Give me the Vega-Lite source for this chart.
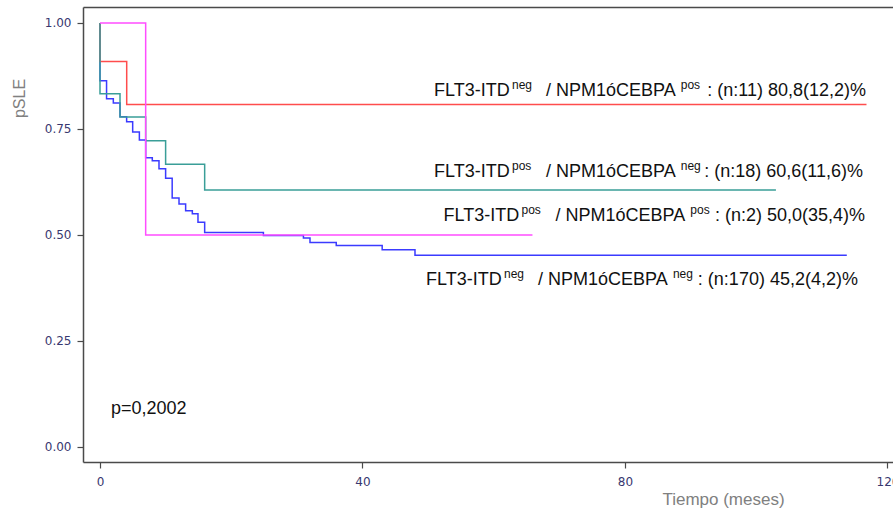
{
  "$schema": "https://vega.github.io/schema/vega-lite/v6.json",
  "width": 810,
  "height": 455,
  "autosize": {"type": "none"},
  "padding": {"left": 83, "top": 7, "right": 0, "bottom": 50},
  "background": "white",
  "config": {
    "view": {"stroke": null},
    "axis": {"grid": false, "labelFont": "DejaVu Sans", "labelFontSize": 12, "labelColor": "#383870", "domainColor": "#4a4a4a", "domainWidth": 1.5, "tickColor": "#4a4a4a", "tickWidth": 1.2, "tickSize": 6, "titleFont": "Liberation Sans", "titleFontWeight": "normal", "titleColor": "#808080"}
  },
  "datasets": {
    "curves": [
      {"group": "nn", "t": 0, "s": 1.0},
      {"group": "nn", "t": 0, "s": 0.864},
      {"group": "nn", "t": 1.0, "s": 0.8215},
      {"group": "nn", "t": 2.03, "s": 0.811},
      {"group": "nn", "t": 3.05, "s": 0.779},
      {"group": "nn", "t": 4.06, "s": 0.767},
      {"group": "nn", "t": 4.98, "s": 0.743},
      {"group": "nn", "t": 6.0, "s": 0.724},
      {"group": "nn", "t": 6.96, "s": 0.682},
      {"group": "nn", "t": 7.97, "s": 0.675},
      {"group": "nn", "t": 8.99, "s": 0.656},
      {"group": "nn", "t": 10.0, "s": 0.634},
      {"group": "nn", "t": 11.0, "s": 0.587},
      {"group": "nn", "t": 12.04, "s": 0.573},
      {"group": "nn", "t": 13.05, "s": 0.557},
      {"group": "nn", "t": 14.07, "s": 0.55},
      {"group": "nn", "t": 14.93, "s": 0.53},
      {"group": "nn", "t": 15.95, "s": 0.506},
      {"group": "nn", "t": 24.9, "s": 0.499},
      {"group": "nn", "t": 31.0, "s": 0.493},
      {"group": "nn", "t": 32.0, "s": 0.482},
      {"group": "nn", "t": 36.0, "s": 0.475},
      {"group": "nn", "t": 43.0, "s": 0.465},
      {"group": "nn", "t": 48.0, "s": 0.452},
      {"group": "nn", "t": 113.8, "s": 0.452},
      {"group": "np", "t": 0, "s": 1.0},
      {"group": "np", "t": 0, "s": 0.909},
      {"group": "np", "t": 4.07, "s": 0.808},
      {"group": "np", "t": 116.8, "s": 0.808},
      {"group": "pn", "t": 0, "s": 1.0},
      {"group": "pn", "t": 0, "s": 0.833},
      {"group": "pn", "t": 3.05, "s": 0.778},
      {"group": "pn", "t": 6.96, "s": 0.722},
      {"group": "pn", "t": 10.0, "s": 0.667},
      {"group": "pn", "t": 15.95, "s": 0.606},
      {"group": "pn", "t": 103.0, "s": 0.606},
      {"group": "pp", "t": 0, "s": 1.0},
      {"group": "pp", "t": 6.96, "s": 0.5},
      {"group": "pp", "t": 65.9, "s": 0.5}
    ],
    "labels": [
      {"part": "main", "text": "FLT3-ITD", "x": 50.9, "y": 0.828},
      {"part": "sup", "text": "neg", "x": 62.78, "y": 0.828},
      {"part": "main", "text": "/ NPM1óCEBPA", "x": 67.96, "y": 0.828},
      {"part": "sup", "text": "pos", "x": 88.5, "y": 0.828},
      {"part": "tail", "text": ": (n:11) 80,8(12,2)%", "x": 116.72, "y": 0.828},
      {"part": "main", "text": "FLT3-ITD", "x": 50.9, "y": 0.637},
      {"part": "sup", "text": "pos", "x": 62.78, "y": 0.637},
      {"part": "main", "text": "/ NPM1óCEBPA", "x": 67.96, "y": 0.637},
      {"part": "sup", "text": "neg", "x": 88.5, "y": 0.637},
      {"part": "tail", "text": ": (n:18) 60,6(11,6)%", "x": 116.27, "y": 0.637},
      {"part": "main", "text": "FLT3-ITD", "x": 52.34, "y": 0.533},
      {"part": "sup", "text": "pos", "x": 64.23, "y": 0.533},
      {"part": "main", "text": "/ NPM1óCEBPA", "x": 69.41, "y": 0.533},
      {"part": "sup", "text": "pos", "x": 89.95, "y": 0.533},
      {"part": "tail", "text": ": (n:2) 50,0(35,4)%", "x": 116.57, "y": 0.533},
      {"part": "main", "text": "FLT3-ITD", "x": 49.68, "y": 0.382},
      {"part": "sup", "text": "neg", "x": 61.56, "y": 0.382},
      {"part": "main", "text": "/ NPM1óCEBPA", "x": 66.74, "y": 0.382},
      {"part": "sup", "text": "neg", "x": 87.3, "y": 0.382},
      {"part": "tail", "text": ": (n:170) 45,2(4,2)%", "x": 115.5, "y": 0.382},
      {"part": "main", "text": "p=0,2002", "x": 1.68, "y": 0.077}
    ]
  },
  "layer": [
    {
      "data": {"name": "curves"},
      "mark": {"type": "line", "interpolate": "step-after", "strokeWidth": 1.5},
      "encoding": {
        "x": {"field": "t", "type": "quantitative", "scale": {"domain": [-2.59, 120.84], "nice": false, "zero": false},
              "axis": {"orient": "bottom", "values": [0, 40, 80, 120], "labelPadding": 8, "title": "Tiempo (meses)", "titleFontSize": 17, "titleX": 640, "titleY": 42, "titleAlign": "center", "titleBaseline": "alphabetic", "titleAnchor": null}},
        "y": {"field": "s", "type": "quantitative", "scale": {"domain": [-0.0354, 1.0377], "nice": false, "zero": false},
              "axis": {"orient": "left", "values": [0, 0.25, 0.5, 0.75, 1], "format": ".2f", "labelPadding": 6, "title": "pSLE", "titleFontSize": 16, "titleAngle": -90, "titleX": -64, "titleY": 91, "titleAlign": "center", "titleBaseline": "middle", "titleAnchor": null}},
        "color": {"field": "group", "type": "nominal", "legend": null,
                  "scale": {"domain": ["nn", "np", "pn", "pp"], "range": ["#3b3bff", "#ff4d4d", "#3a9e98", "#ff4dff"]}},
        "order": {"field": "t", "type": "quantitative"}
      }
    },
    {
      "data": {"name": "labels"},
      "transform": [{"filter": "datum.part === 'main'"}],
      "mark": {"type": "text", "align": "left", "baseline": "alphabetic", "font": "Liberation Sans", "fontSize": 18, "color": "#111111"},
      "encoding": {
        "x": {"field": "x", "type": "quantitative", "axis": {"orient": "top", "labels": false, "ticks": false, "title": null}},
        "y": {"field": "y", "type": "quantitative"},
        "text": {"field": "text"}
      }
    },
    {
      "data": {"name": "labels"},
      "transform": [{"filter": "datum.part === 'sup'"}],
      "mark": {"type": "text", "align": "left", "baseline": "alphabetic", "font": "Liberation Sans", "fontSize": 12, "dy": -7, "color": "#111111"},
      "encoding": {
        "x": {"field": "x", "type": "quantitative", "axis": null},
        "y": {"field": "y", "type": "quantitative"},
        "text": {"field": "text"}
      }
    },
    {
      "data": {"name": "labels"},
      "transform": [{"filter": "datum.part === 'tail'"}],
      "mark": {"type": "text", "align": "right", "baseline": "alphabetic", "font": "Liberation Sans", "fontSize": 18, "color": "#111111"},
      "encoding": {
        "x": {"field": "x", "type": "quantitative", "axis": null},
        "y": {"field": "y", "type": "quantitative"},
        "text": {"field": "text"}
      }
    }
  ],
  "resolve": {"axis": {"x": "independent"}}
}
